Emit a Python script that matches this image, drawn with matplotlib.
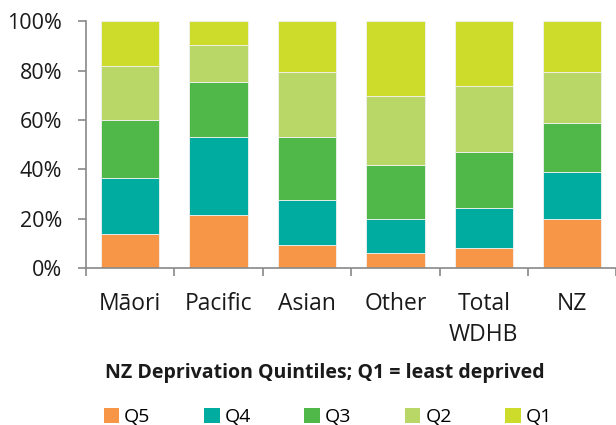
import matplotlib
matplotlib.use('Agg')
import numpy as np
import matplotlib.pyplot as plt
from matplotlib.patches import Patch
from matplotlib.ticker import FuncFormatter

# ############################
###### Data ##################
############################
groups = ['Māori', 'Pacific', 'Asian', 'Other', 'Total\nWDHB', 'NZ']
quintiles = ['Q5', 'Q4', 'Q3', 'Q2', 'Q1']
q5 = [13.7, 21.7, 9.2, 6.1, 8.1, 19.8]
q4 = [22.8, 31.5, 18.6, 14.0, 16.4, 19.3]
q3 = [23.6, 22.2, 25.5, 21.5, 22.4, 19.8]
q2 = [21.9, 14.9, 26.3, 28.2, 26.7, 20.6]
q1 = [18.0, 9.7, 20.4, 30.2, 26.4, 20.5]
colours = ['#F79646', '#00ACA0', '#50B848', '#B9D766', '#CDDC2A']

title = 'NZ Deprivation Quintiles; Q1 = least deprived'

plt.rcParams['font.family'] = ['Open Sans', 'DejaVu Sans']

# ############################
###### Plot ##################
############################
fig = plt.figure(figsize=(6.16, 4.25), dpi=100)
ax = fig.add_axes([0.1396, 0.369, 0.861, 0.581])

x = np.arange(len(groups))
bottom = np.zeros(len(groups))
for vals, col in zip([q5, q4, q3, q2, q1], colours):
    ax.bar(x, vals, bottom=bottom, width=0.66, color=col,
           edgecolor='#f2f2f2', linewidth=0.6, zorder=2)
    bottom += np.array(vals)

ax.set_xlim(-0.5, len(groups) - 0.5)
ax.set_ylim(0, 100)
ax.set_yticks(np.arange(0, 101, 20))
ax.yaxis.set_major_formatter(FuncFormatter(lambda v, p: '%d%%' % v))

# labels under bars, tick marks between categories
ax.set_xticks(x)
ax.set_xticklabels(groups, fontsize=16.5, color='#1a1a1a', linespacing=1.4)
ax.set_xticks(np.arange(-0.5, len(groups), 1.0), minor=True)

for s in ['top', 'right']:
    ax.spines[s].set_visible(False)
for s in ['left', 'bottom']:
    ax.spines[s].set_color('#898989')
    ax.spines[s].set_linewidth(1.2)
ax.tick_params(axis='x', which='major', length=0, pad=17)
ax.tick_params(axis='x', which='minor', colors='#898989', length=6, width=1.2)
ax.tick_params(axis='y', colors='#898989', length=6, width=1.2,
               labelsize=15.5, labelcolor='#1a1a1a', pad=11)

fig.text(324.5 / 616, 1 - 373 / 425, title, ha='center', va='center',
         fontsize=14, fontweight='bold', color='#1a1a1a')

handles = [Patch(facecolor=c, edgecolor='none') for c in colours]
fig.legend(handles, quintiles, loc='center', bbox_to_anchor=(328 / 616, 1 - 417 / 425),
           ncol=5, frameon=False, fontsize=14, handlelength=0.8, handleheight=0.8,
           handletextpad=0.26, columnspacing=2.75, borderpad=0)

fig.savefig('out.png', dpi=100)
